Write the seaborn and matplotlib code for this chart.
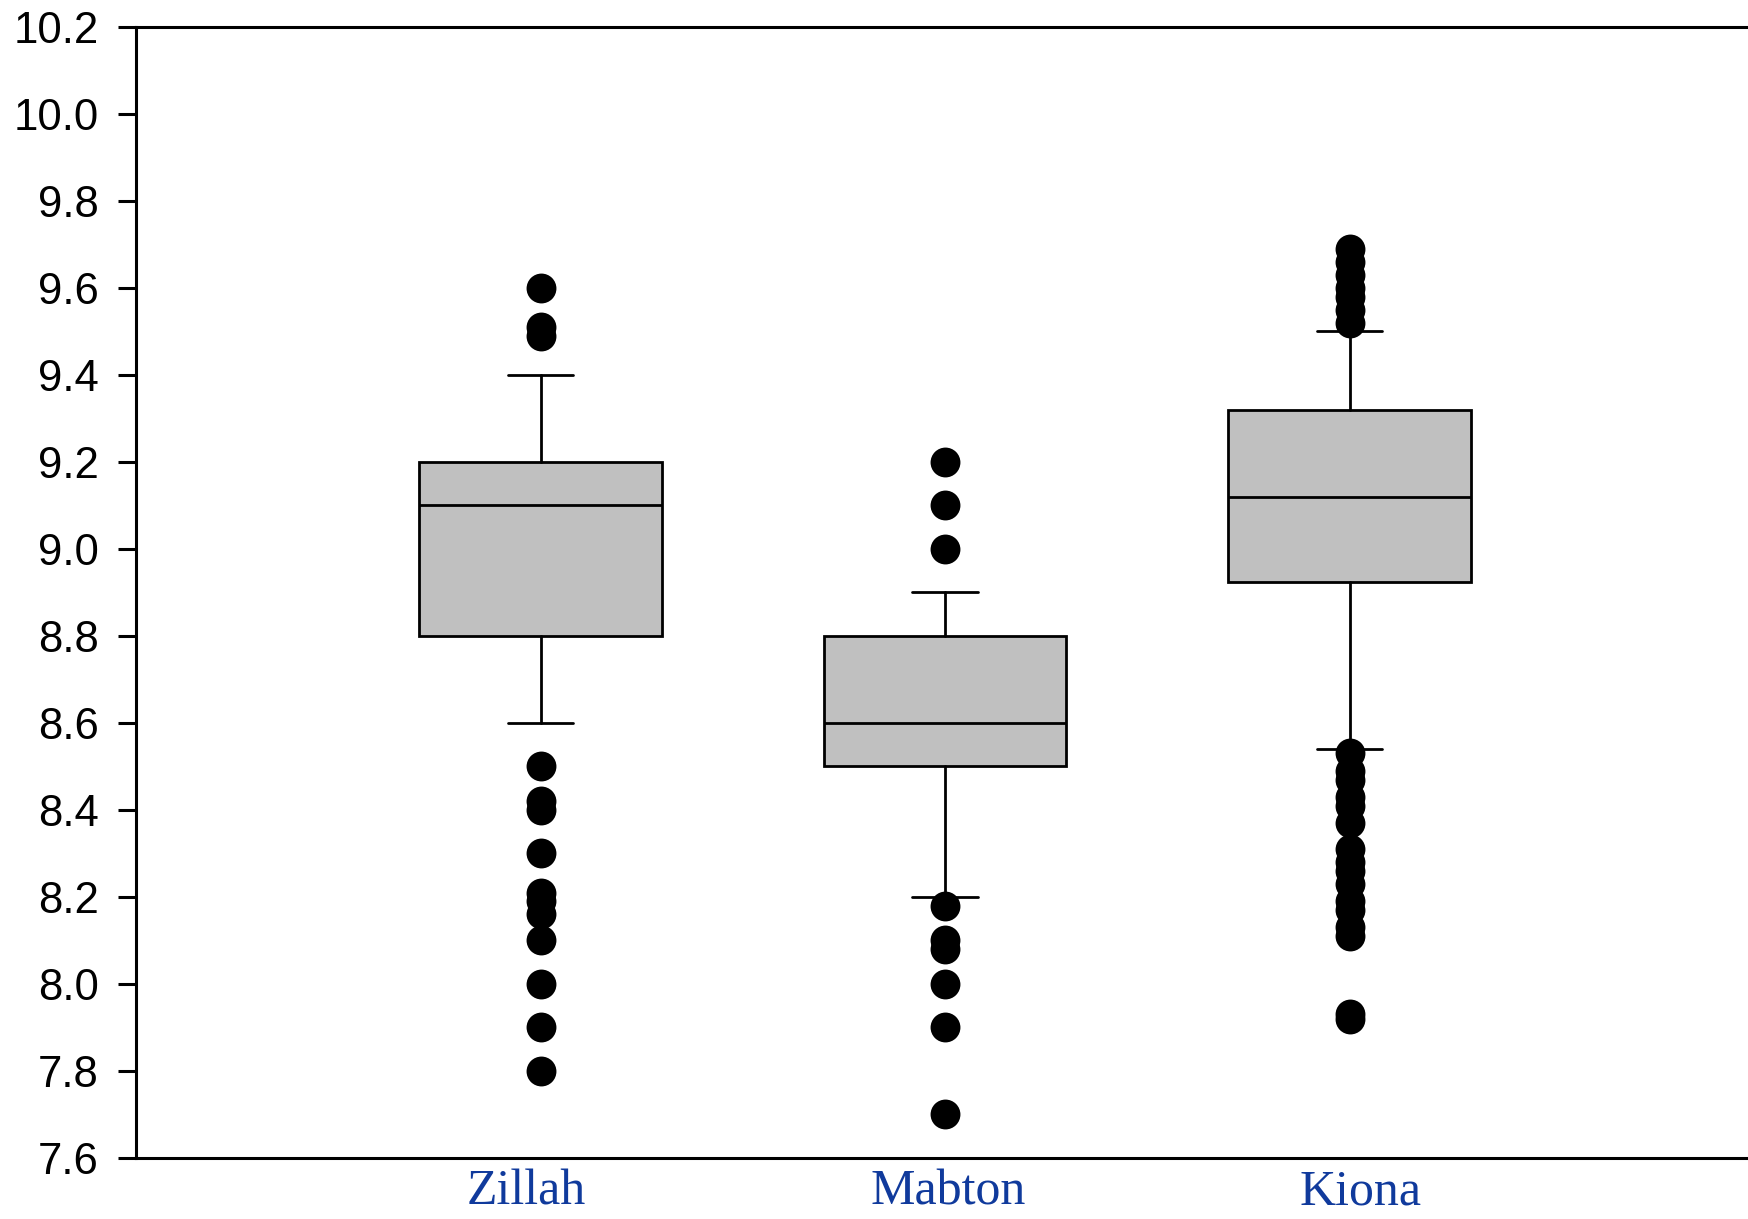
import numpy as np
import pandas as pd
import matplotlib
matplotlib.use("Agg")
import matplotlib.pyplot as plt
import matplotlib.transforms as mtransforms
import seaborn as sns

# ---- data ----
sites = ["Zillah", "Mabton", "Kiona"]
q1 = [8.80, 8.50, 8.925]
median = [9.10, 8.60, 9.12]
q3 = [9.20, 8.80, 9.32]
whisker_low = [8.60, 8.20, 8.54]
whisker_high = [9.40, 8.90, 9.50]

zillah_outliers = [9.60, 9.51, 9.49, 8.50, 8.42, 8.40, 8.30, 8.21, 8.19, 8.16, 8.10, 8.00, 7.90, 7.80]
mabton_outliers = [9.20, 9.10, 9.00, 8.18, 8.10, 8.08, 8.00, 7.90, 7.70]
kiona_outliers = [9.69, 9.66, 9.63, 9.60, 9.58, 9.55, 9.52,
                  8.53, 8.49, 8.47, 8.43, 8.41, 8.37, 8.31, 8.28, 8.26,
                  8.23, 8.19, 8.17, 8.13, 8.11, 7.93, 7.92]

yticks = [7.6, 7.8, 8.0, 8.2, 8.4, 8.6, 8.8, 9.0, 9.2, 9.4, 9.6, 9.8, 10.0, 10.2]

# ---- figure ----
sns.set_style("ticks")
plt.rcParams["font.family"] = ["Liberation Sans", "DejaVu Sans"]

W, H = 1748, 1219
fig = plt.figure(figsize=(W / 100, H / 100), dpi=100)
left = 136 / W
right = 1754 / W
bottom = 1 - 1158 / H
top = 1 - 27 / H
ax = fig.add_axes([left, bottom, right - left, top - bottom])

stats = []
for i, s in enumerate(sites):
    stats.append(dict(label=s, q1=q1[i], med=median[i], q3=q3[i],
                      whislo=whisker_low[i], whishi=whisker_high[i], fliers=[]))

lw = 2.0
ax.bxp(stats, positions=[0, 1, 2], widths=0.6, capwidths=0.163,
       showfliers=False, patch_artist=True, manage_ticks=False,
       boxprops=dict(facecolor="#c0c0c0", edgecolor="black", linewidth=lw),
       medianprops=dict(color="black", linewidth=lw),
       whiskerprops=dict(color="black", linewidth=lw),
       capprops=dict(color="black", linewidth=lw))

out_df = pd.DataFrame({
    "site": (["Zillah"] * len(zillah_outliers) + ["Mabton"] * len(mabton_outliers)
             + ["Kiona"] * len(kiona_outliers)),
    "value": zillah_outliers + mabton_outliers + kiona_outliers,
})
sns.stripplot(data=out_df, x="site", y="value", order=sites, jitter=False,
              color="black", size=21.5, linewidth=0, ax=ax, zorder=4)

ax.set_xlim(-1, 3)
ax.set_ylim(7.6, 10.2)
ax.set_yticks(yticks)
ax.set_yticklabels([f"{v:.1f}" for v in yticks], fontsize=31.5)
ax.set_xticks([0, 1, 2])
ax.set_xticklabels(sites, fontsize=36, color="#103a9c",
                   family=["Liberation Serif", "DejaVu Serif"])
ax.set_xlabel("")
ax.set_ylabel("")
ax.tick_params(axis="y", direction="out", length=13, width=2.2, pad=14, colors="black")
ax.tick_params(axis="x", length=0, pad=8)
for sp in ax.spines.values():
    sp.set_visible(True)
    sp.set_linewidth(2.2)
    sp.set_color("black")

# small horizontal offsets of the category labels seen in the reference
label_shift_px = [-14, 3, 11]
for lab, dx in zip(ax.get_xticklabels(), label_shift_px):
    lab.set_transform(lab.get_transform() + mtransforms.Affine2D().translate(dx, 0))

fig.savefig("out.png", dpi=100)
